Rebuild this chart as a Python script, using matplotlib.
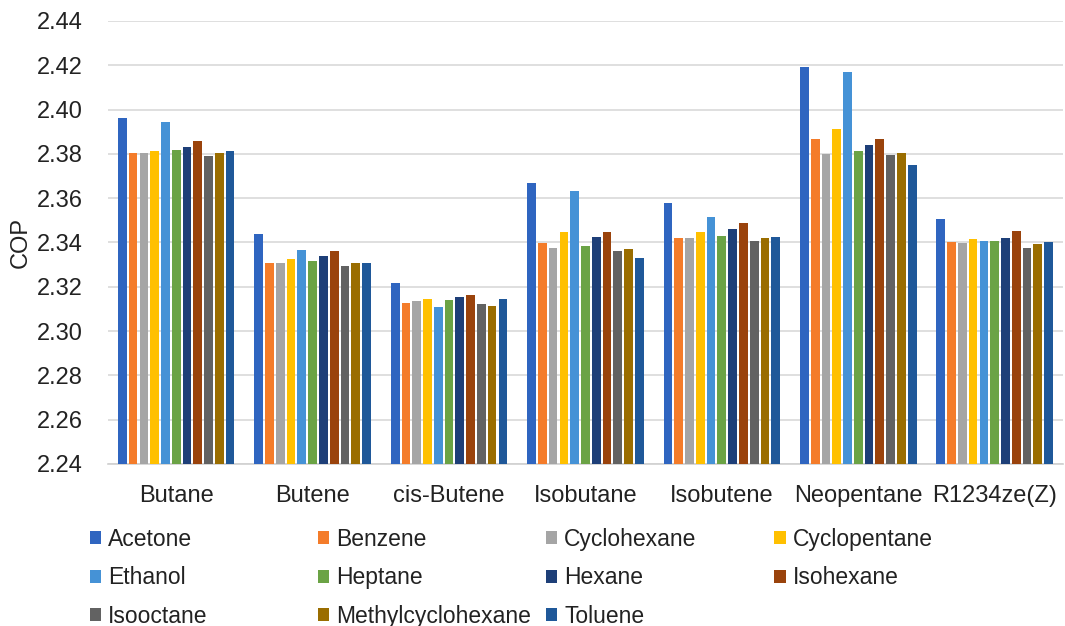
import numpy as np
import matplotlib
matplotlib.use("Agg")
import matplotlib.pyplot as plt

plt.rcParams['font.family'] = ['Liberation Sans', 'DejaVu Sans']

# refrigerants on the x axis
refrigerants = ["Butane", "Butene", "cis-Butene", "Isobutane", "Isobutene",
                "Neopentane", "R1234ze(Z)"]

# COP per solvent (one value per refrigerant)
acetone      = [2.3963, 2.3437, 2.3218, 2.3669, 2.3577, 2.4194, 2.3507]
benzene      = [2.3803, 2.3306, 2.3127, 2.3398, 2.3421, 2.3865, 2.3400]
cyclohexane  = [2.3803, 2.3306, 2.3135, 2.3374, 2.3421, 2.3800, 2.3397]
cyclopentane = [2.3812, 2.3327, 2.3144, 2.3447, 2.3447, 2.3912, 2.3417]
ethanol      = [2.3942, 2.3364, 2.3109, 2.3634, 2.3517, 2.4171, 2.3408]
heptane      = [2.3817, 2.3315, 2.3139, 2.3382, 2.3430, 2.3812, 2.3408]
hexane       = [2.3833, 2.3339, 2.3156, 2.3426, 2.3459, 2.3842, 2.3421]
isohexane    = [2.3860, 2.3361, 2.3161, 2.3447, 2.3487, 2.3869, 2.3451]
isooctane    = [2.3791, 2.3293, 2.3123, 2.3361, 2.3408, 2.3795, 2.3377]
methylcyclohexane = [2.3803, 2.3306, 2.3114, 2.3370, 2.3421, 2.3803, 2.3395]
toluene      = [2.3812, 2.3306, 2.3144, 2.3331, 2.3426, 2.3752, 2.3400]

solvents = ["Acetone", "Benzene", "Cyclohexane", "Cyclopentane", "Ethanol",
            "Heptane", "Hexane", "Isohexane", "Isooctane",
            "Methylcyclohexane", "Toluene"]
series = [acetone, benzene, cyclohexane, cyclopentane, ethanol, heptane,
          hexane, isohexane, isooctane, methylcyclohexane, toluene]
colors = ['#2F65C0', '#F47C2A', '#A5A5A5', '#FFC000', '#4592D6', '#6BA345',
          '#1E3F78', '#9A430C', '#626262', '#9A6D00', '#1F5899']

text_col = '#222222'

fig = plt.figure(figsize=(10.65, 6.26), dpi=100)
ax = fig.add_axes([0.1014, 0.2588, 0.8966, 0.7077])

x = np.arange(len(refrigerants))
pitch = 0.079
width = 0.064
bars = []
for i in range(len(series)):
    offs = (i - (len(series) - 1) / 2) * pitch
    b = ax.bar(x + offs, series[i], width=width, color=colors[i],
               label=solvents[i], zorder=3)
    bars.append(b)

ax.set_ylim(2.24, 2.44)
ax.set_xlim(-0.5, len(refrigerants) - 0.5)
ax.set_yticks(np.arange(2.24, 2.4401, 0.02))
ax.set_yticklabels([f"{v:.2f}" for v in np.arange(2.24, 2.4401, 0.02)])
ax.set_xticks(x)
ax.set_xticklabels(refrigerants)
ax.tick_params(axis='both', length=0, labelsize=17, colors=text_col)
ax.tick_params(axis='x', pad=15)
ax.tick_params(axis='y', pad=18)
ax.grid(axis='y', color='#D9D9D9', linewidth=1.2, zorder=0)
for s in ['top', 'right', 'left']:
    ax.spines[s].set_visible(False)
ax.spines['bottom'].set_color('#D0D0D0')
ax.spines['bottom'].set_linewidth(1.2)
ax.set_ylabel("COP", fontsize=17, color=text_col, labelpad=4)

# legend: 4 evenly spaced columns, filled row by row
for j in range(4):
    idx = list(range(j, len(series), 4))
    leg = fig.legend([bars[k] for k in idx], [solvents[k] for k in idx],
                     loc='upper left', bbox_to_anchor=(0.0845 + 0.2141 * j, 0.157),
                     frameon=False, fontsize=16.5, borderpad=0, borderaxespad=0,
                     handlelength=0.5, handleheight=0.5, handletextpad=0.3,
                     labelspacing=0.68)
    for t in leg.get_texts():
        t.set_color(text_col)

fig.savefig("out.png", dpi=100)
